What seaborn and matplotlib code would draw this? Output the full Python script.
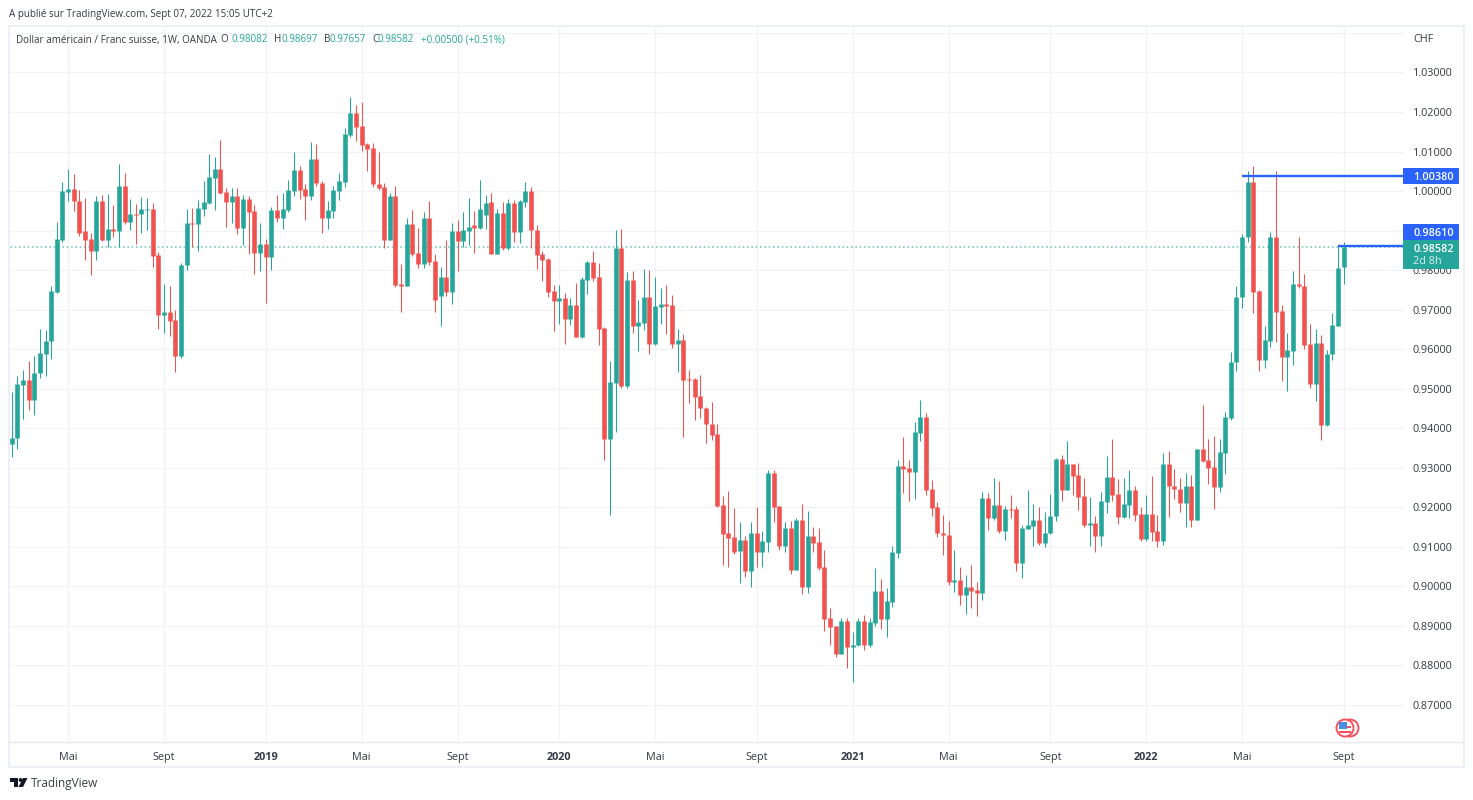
import pandas as pd
import matplotlib.pyplot as plt
from matplotlib.patches import Rectangle, Circle, Polygon
import seaborn as sns

# weekly USD/CHF candles, in 1/10000 of a franc
opens = [9361,9375,9509,9522,9472,9539,9589,9620,9745,9876,
         9998,10005,9976,9898,9879,9848,9976,9877,9904,9898,
         10014,9922,9943,9941,9953,9954,9838,9686,9693,9674,
         9584,9813,9919,9917,9954,9970,10034,10055,9997,9972,
         9987,9907,9981,9949,9844,9866,9834,9951,9931,9952,
         10000,10053,10005,9987,10081,10021,9933,9950,10000,10024,
         10142,10197,10164,10119,10109,10019,10010,9876,9987,9765,
         9761,9917,9843,9815,9933,9823,9734,9783,9745,9900,
         9874,9900,9914,9906,9940,9973,9842,9944,9856,9971,
         9896,9973,10000,9901,9841,9828,9747,9722,9729,9676,
         9712,9631,9774,9821,9783,9653,9374,9515,9856,9506,
         9774,9659,9666,9731,9612,9707,9714,9712,9612,9624,
         9525,9525,9482,9452,9412,9386,9205,9134,9125,9089,
         9118,9039,9136,9087,9113,9286,9203,9103,9148,9042,
         9169,8999,9127,9113,9049,8920,8900,8829,8913,8846,
         8851,8913,8853,8908,8989,8918,8961,9085,9305,9300,
         9289,9388,9429,9246,9200,9135,9131,9012,9015,8977,
         8999,8991,8984,9224,9172,9205,9140,9196,9196,9058,
         9145,9154,9169,9110,9134,9177,9322,9244,9310,9282,
         9229,9156,9160,9127,9213,9277,9234,9175,9205,9243,
         9182,9119,9182,9139,9115,9309,9253,9247,9212,9253,
         9169,9347,9319,9301,9252,9337,9425,9567,9731,9883,
         10022,9746,9572,9622,9883,9697,9580,9595,9766,9761,
         9613,9511,9616,9409,9587,9659,9808]
highs = [9491,9533,9547,9569,9583,9650,9648,9760,9922,10024,
         10057,10043,10003,9983,9895,9987,9990,9992,9965,10069,
         10046,9979,9967,9986,9983,9969,9845,9766,9760,9700,
         9819,9954,9957,9978,10026,10095,10086,10129,10007,10007,
         10009,9990,9987,9964,9918,9878,9959,9990,9995,10028,
         10100,10063,10019,10124,10119,10025,9975,10012,10047,10159,
         10238,10217,10226,10121,10121,10098,10021,9995,10014,9815,
         9932,9952,9906,9947,9976,9841,9809,9876,9919,9928,
         9947,9983,9949,10028,9990,9995,9954,9972,9980,9977,
         9977,10024,10010,9914,9848,9831,9762,9762,9741,9729,
         9767,9782,9822,9848,9817,9655,9569,9901,9903,9795,
         9798,9724,9803,9800,9783,9755,9762,9736,9650,9639,
         9548,9528,9535,9454,9467,9410,9229,9242,9199,9162,
         9127,9162,9200,9139,9295,9295,9204,9162,9165,9172,
         9208,9191,9151,9148,9093,8946,8900,8920,8920,8884,
         8920,8927,8920,9046,9019,8996,9103,9319,9377,9320,
         9416,9472,9438,9269,9214,9181,9165,9093,9048,9029,
         9053,9011,9238,9236,9274,9267,9203,9231,9203,9156,
         9244,9208,9201,9188,9234,9324,9333,9369,9310,9312,
         9274,9226,9177,9238,9329,9374,9272,9274,9295,9253,
         9200,9230,9278,9180,9337,9342,9297,9273,9288,9283,
         9348,9459,9374,9380,9373,9442,9592,9759,9892,10050,
         10064,9750,9659,9897,10050,9713,9640,9797,9885,9789,
         9665,9652,9635,9597,9691,9860,9870]
lows = [9327,9348,9424,9446,9434,9527,9533,9576,9743,9872,
        9976,9949,9886,9826,9788,9825,9874,9858,9884,9858,
        9917,9901,9866,9895,9901,9807,9652,9641,9633,9542,
        9579,9800,9858,9848,9938,9967,9952,9992,9909,9919,
        9891,9863,9842,9791,9799,9718,9800,9922,9904,9947,
        9987,9981,9927,9978,10013,9895,9904,9933,9978,10010,
        10137,10126,10102,10050,10010,10003,9856,9875,9757,9693,
        9760,9836,9805,9805,9814,9693,9659,9734,9714,9798,
        9858,9864,9843,9904,9904,9841,9841,9851,9852,9871,
        9868,9960,9856,9804,9772,9731,9645,9664,9612,9661,
        9630,9628,9740,9772,9610,9320,9181,9390,9503,9502,
        9640,9595,9649,9588,9611,9664,9638,9602,9542,9377,
        9464,9420,9426,9362,9370,9202,9055,9050,9082,9009,
        9024,8999,9049,9050,9087,9162,9093,9088,9032,9041,
        8981,8984,9088,9042,8886,8851,8822,8828,8794,8759,
        8848,8839,8846,8900,8891,8872,8949,9072,9235,9215,
        9221,9369,9231,9178,9126,9080,9003,8986,8953,8931,
        8946,8926,8965,9143,9167,9134,9118,9172,9039,9020,
        9144,9101,9105,9100,9133,9165,9215,9243,9231,9193,
        9150,9102,9088,9102,9186,9217,9158,9174,9173,9165,
        9116,9116,9116,9100,9105,9176,9220,9187,9150,9150,
        9168,9315,9259,9195,9239,9285,9420,9546,9703,9870,
        9691,9544,9552,9605,9618,9520,9494,9559,9756,9600,
        9501,9468,9371,9407,9573,9658,9766]
closes = [9376,9512,9522,9472,9540,9590,9621,9747,9879,10000,
          10005,9975,9895,9876,9848,9976,9876,9904,9898,10014,
          9922,9943,9940,9954,9954,9836,9686,9693,9671,9584,
          9814,9919,9917,9957,9972,10035,10055,9995,9972,9987,
          9907,9981,9948,9844,9866,9834,9951,9931,9954,10003,
          10053,10003,9987,10081,10020,9933,9952,10003,10025,10144,
          10197,10162,10116,10106,10018,10008,9876,9987,9762,9761,
          9917,9841,9815,9933,9820,9724,9783,9745,9900,9874,
          9902,9909,9907,9954,9970,9842,9944,9856,9971,9896,
          9974,10000,9901,9839,9826,9745,9722,9729,9676,9712,
          9631,9777,9821,9781,9650,9374,9517,9856,9506,9774,
          9659,9669,9731,9612,9709,9714,9709,9612,9623,9522,
          9522,9479,9451,9410,9383,9203,9132,9122,9088,9118,
          9039,9136,9087,9115,9286,9201,9103,9148,9042,9169,
          8999,9127,9110,9046,8918,8898,8829,8913,8846,8852,
          8913,8853,8910,8989,8918,8962,9086,9305,9298,9289,
          9391,9429,9244,9199,9134,9129,9012,9015,8977,8999,
          8989,8984,9224,9172,9205,9140,9196,9194,9058,9148,
          9156,9169,9110,9135,9178,9322,9244,9310,9279,9226,
          9156,9160,9127,9215,9277,9231,9175,9208,9243,9180,
          9119,9182,9137,9115,9309,9253,9246,9212,9253,9169,
          9347,9316,9299,9252,9339,9428,9568,9733,9885,10022,
          9745,9572,9624,9883,9694,9580,9597,9766,9759,9611,
          9511,9616,9409,9589,9660,9806,9858]

date_ticks = [10, 27, 45, 62, 79, 97, 114, 132, 149, 166, 184, 201, 218, 236]
date_labels = ['Mai', 'Sept', '2019', 'Mai', 'Sept', '2020', 'Mai', 'Sept',
               '2021', 'Mai', 'Sept', '2022', 'Mai', 'Sept']
price_ticks = [0.87, 0.88, 0.89, 0.90, 0.91, 0.92, 0.93, 0.94, 0.95, 0.96,
               0.97, 0.98, 0.99, 1.00, 1.01, 1.02, 1.03]

high_level = 1.00380
high_level_week = 218
last_level = 0.98610
last_level_week = 235
last_close = 0.98582

GREEN = '#26a69a'
RED = '#ef5350'
BLUE = '#2962ff'
TEXT = '#363a45'
FONT = 'Open Sans'
SMALL = 7.15

sns.set_theme(style='whitegrid', rc={'grid.color': '#f1f2f4', 'grid.linewidth': 0.9,
                                     'axes.edgecolor': 'none',
                                     'lines.solid_capstyle': 'butt'})
plt.rcParams['font.family'] = [FONT, 'DejaVu Sans']

df = pd.DataFrame({'week': range(len(opens)), 'open': opens, 'high': highs,
                   'low': lows, 'close': closes})
df[['open', 'high', 'low', 'close']] /= 10000
df['direction'] = ['up' if c >= o else 'down' for o, c in zip(df['open'], df['close'])]

wicks = df.melt(id_vars=['week', 'direction'], value_vars=['low', 'high'], value_name='price')
bodies = df.melt(id_vars=['week', 'direction'], value_vars=['open', 'close'], value_name='price')
palette = {'up': GREEN, 'down': RED}

W, H = 1473, 800
fig = plt.figure(figsize=(W / 100, H / 100), dpi=100, facecolor='white')
ax = fig.add_axes([9 / W, 1 - 741 / H, (1403 - 9) / W, (741 - 26) / H])

ax.plot([-1, 260], [last_close, last_close], color=GREEN, lw=1.2, ls=(0, (1, 1.6)), alpha=0.6, zorder=1)

sns.lineplot(data=wicks, x='week', y='price', hue='direction', units='week', estimator=None,
             palette=palette, linewidth=0.75, sort=False, legend=False, ax=ax, zorder=3)
sns.lineplot(data=bodies, x='week', y='price', hue='direction', units='week', estimator=None,
             palette=palette, linewidth=3.3, sort=False, legend=False, ax=ax, zorder=4)

ax.plot([high_level_week, 260], [high_level, high_level], color=BLUE, lw=1.7, zorder=5)
ax.plot([last_level_week, 260], [last_level, last_level], color=BLUE, lw=1.7, zorder=5)

ax.set_xlim(-0.47, 246.5)
ax.set_ylim(0.86089, 1.04176)
ax.set_xlabel('')
ax.set_ylabel('')
ax.set_xticks(date_ticks)
ax.set_xticklabels(date_labels, fontsize=7.8, color=TEXT)
for lab, txt in zip(ax.get_xticklabels(), date_labels):
    if txt.startswith('20'):
        lab.set_fontweight('bold')
ax.set_yticks(price_ticks + [1.04])
ax.set_yticklabels([f'{p:.5f}' for p in price_ticks] + [''], fontsize=7.8, color=TEXT)
ax.yaxis.tick_right()
ax.tick_params(axis='x', length=0, pad=8)
ax.tick_params(axis='y', length=0, pad=7)
ax.grid(True)
ax.set_axisbelow(True)

# pixel-space layer for the TradingView frame, tags, header and logo
ov = fig.add_axes([0, 0, 1, 1], facecolor='none')
ov.set_xlim(0, W)
ov.set_ylim(H, 0)
ov.axis('off')

ov.add_patch(Rectangle((9, 25.5), 1454.5, 741, fill=False, ec='#edf0f6', lw=1.5))
ov.plot([9, 1463], [741.5, 741.5], color='#e6e9f0', lw=1)

ov.text(9, 14.5, 'A publié sur TradingView.com, Sept 07, 2022 15:05 UTC+2', fontsize=SMALL, color=TEXT, va='center')
ov.text(16, 40, 'Dollar américain / Franc suisse, 1W, OANDA', fontsize=SMALL, color=TEXT, va='center')
for x, label, value_x, value in [(220, 'O', 232, '0.98082'), (274, 'H', 281, '0.98697'),
                                 (324, 'B', 330, '0.97657'), (372, 'C', 378, '0.98582')]:
    ov.text(x, 40, label, fontsize=SMALL, color=TEXT, va='center')
    ov.text(value_x, 40, value, fontsize=SMALL, color=GREEN, va='center')
ov.text(421, 40, '+0.00500 (+0.51%)', fontsize=SMALL, color=GREEN, va='center')
ov.text(1413, 39.5, 'CHF', fontsize=7.8, color=TEXT, va='center')

ov.add_patch(Rectangle((1403, 168), 55.5, 16, fc=BLUE, ec='none'))
ov.text(1413, 177, '1.00380', fontsize=7.8, color='white', va='center', fontweight='semibold')
ov.add_patch(Rectangle((1403, 224), 55.5, 16, fc=BLUE, ec='none'))
ov.text(1413, 233, '0.98610', fontsize=7.8, color='white', va='center', fontweight='semibold')
ov.add_patch(Rectangle((1403, 240), 55.5, 29, fc=GREEN, ec='none'))
ov.text(1413, 249, '0.98582', fontsize=7.8, color='white', va='center', fontweight='semibold')
ov.text(1413, 262, '2d 8h', fontsize=7.8, color='#d6efec', va='center')

# flag event marker
ov.add_patch(Circle((1350, 728), 8.5, fc='white', ec='#f7525f', lw=1.4))
ov.add_patch(Circle((1345, 728), 8.5, fc='white', ec='#f7525f', lw=1.4))
ov.add_patch(Rectangle((1339, 726), 12, 2, fc='#f7525f', ec='none'))
ov.add_patch(Rectangle((1339, 731), 12, 2, fc='#f7525f', ec='none'))
ov.add_patch(Rectangle((1338.5, 722), 8, 6.5, fc='#4a90e2', ec='none'))

# logo
ov.add_patch(Polygon([(9.5, 778), (18, 778), (18, 787), (14, 787), (14, 782), (9.5, 782)], fc='#131722', ec='none'))
ov.add_patch(Circle((20.6, 780), 1.9, fc='#131722', ec='none'))
ov.add_patch(Polygon([(23, 778), (27.5, 778), (23, 787), (18.5, 787)], fc='#131722', ec='none'))
ov.text(31, 784, 'TradingView', fontsize=8.5, color='#3a3e48', va='center')

fig.savefig('out.png', dpi=100)
